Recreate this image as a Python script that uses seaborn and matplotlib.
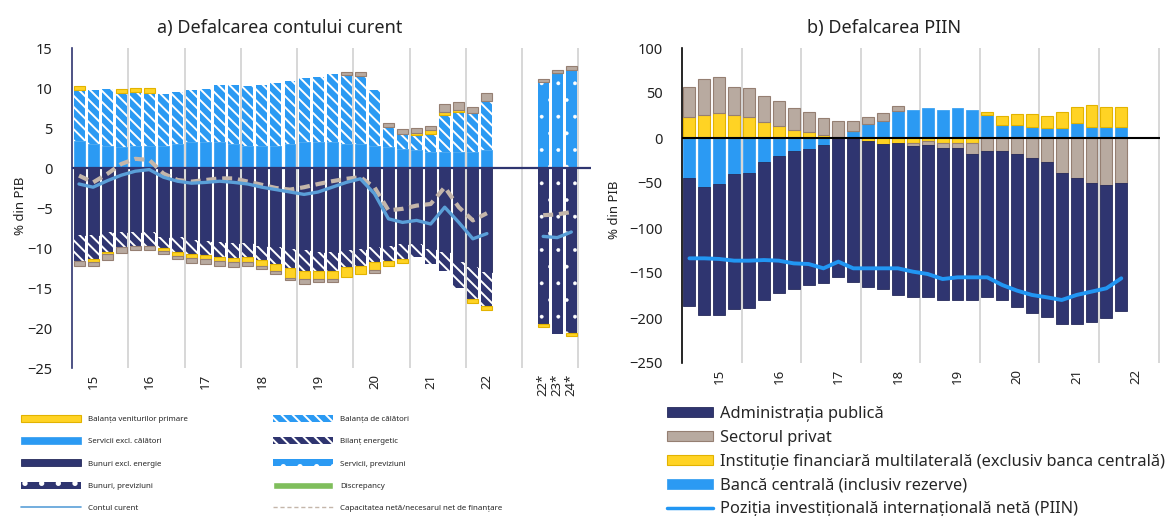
import matplotlib
matplotlib.use('Agg')
import numpy as np
import matplotlib.pyplot as plt
from matplotlib.patches import Patch
from matplotlib.lines import Line2D
import seaborn as sns

# ---- a) Defalcarea contului curent (% din PIB), 2015T1-2022T2 + previziuni
servicii = [3.4, 3.0, 2.8, 2.6, 2.8, 2.8, 2.8, 3.0, 3.2, 3.2, 3.2, 3.0, 2.8, 2.8, 2.8, 3.0,
            3.2, 3.2, 3.2, 3.0, 3.0, 2.8, 2.6, 2.4, 2.2, 2.0, 2.0, 2.0, 2.0, 2.2]
calatori = [6.4, 6.7, 7.1, 6.8, 6.7, 6.6, 6.5, 6.5, 6.5, 6.7, 7.2, 7.4, 7.4, 7.6, 7.8, 7.9,
            8.0, 8.2, 8.6, 8.6, 8.5, 7.0, 2.5, 1.9, 1.9, 2.3, 4.6, 5.0, 4.9, 6.2]
bunuri = [-8.4, -8.4, -8.0, -8.0, -8.0, -8.0, -8.65, -8.65, -9.0, -9.15, -9.3, -9.4, -9.4, -9.7, -9.9, -10.1,
          -10.3, -10.5, -10.5, -10.3, -10.1, -9.9, -9.7, -9.5, -9.5, -10.1, -10.5, -11.8, -12.4, -13.0]
energie = [-3.2, -3.0, -2.5, -1.9, -1.7, -1.7, -1.4, -1.8, -1.7, -1.7, -1.8, -1.8, -1.7, -1.8, -2.1, -2.4,
           -2.6, -2.4, -2.4, -2.1, -2.1, -1.9, -1.9, -1.9, -1.6, -1.9, -2.4, -3.2, -4.0, -4.3]
venituri_primare = [0.4, -0.3, -0.2, 0.45, 0.5, 0.65, -0.3, -0.5, -0.5, -0.55, -0.5, -0.6, -0.6, -0.7, -0.9, -1.2,
                    -0.95, -0.95, -0.95, -1.2, -1.1, -0.9, -0.65, -0.45, 0.25, 0.4, 0.45, 0.3, -0.45, -0.4]
alte = [-0.65, -0.55, -0.85, -0.75, -0.5, -0.5, -0.4, -0.45, -0.65, -0.65, -0.65, -0.6, -0.5, -0.4, -0.4, -0.35,
        -0.65, -0.45, -0.45, 0.4, 0.5, -0.45, 0.5, 0.6, 0.6, 0.5, 0.9, 0.9, 0.75, 0.95]
contul_curent = [-2.0, -2.4, -1.6, -0.9, -0.4, -0.2, -1.15, -1.65, -1.9, -1.8, -1.65, -1.8, -2.0, -2.4, -2.7, -3.0,
                 -3.3, -3.0, -2.4, -1.8, -1.35, -3.2, -6.35, -6.8, -6.55, -7.0, -4.9, -6.8, -8.85, -8.2]
capacitatea = [-0.95, -1.8, -0.75, 0.5, 1.15, 1.0, -0.7, -1.5, -1.7, -1.5, -1.3, -1.3, -1.7, -2.1, -2.5, -2.7,
               -2.4, -2.0, -1.65, -1.35, -1.15, -2.4, -5.3, -5.1, -4.7, -4.5, -2.4, -4.9, -6.55, -5.65]
# previziuni 2022*, 2023*, 2024*
servicii_prev = [10.7, 11.85, 12.3]
bunuri_prev = [-19.5, -20.7, -20.6]
venituri_prev = [-0.35, 0.0, -0.4]
alte_prev = [0.4, 0.45, 0.4]
contul_curent_prev = [-8.55, -8.7, -8.0]
capacitatea_prev = [-5.9, -5.8, -5.5]
labels_a = ['15', '16', '17', '18', '19', '20', '21', '22', '22*', '23*', '24*']

# ---- b) Defalcarea PIIN (% din PIB), 2015T1-2022T2
banca_centrala = [-44.8, -54.8, -51.1, -40.4, -38.5, -26.3, -20.0, -14.1, -12.2, -7.8, 0.0, 7.8, 15.2, 19.3, 30.0,
                  31.1, 33.0, 31.1, 33.0, 31.1, 25.6, 14.4, 14.4, 12.6, 10.7, 10.7, 17.0, 12.6, 12.6, 12.6]
ifm = [23.0, 25.6, 27.4, 25.6, 23.0, 17.4, 13.3, 8.9, 7.0, 3.3, 0.7, 0.0, -3.0, -7.0, -5.2,
       -5.9, -3.0, -5.9, -5.9, -5.9, 3.7, 10.0, 12.3, 14.1, 13.7, 18.6, 17.8, 24.1, 22.2, 22.2]
sector_privat = [34.0, 39.6, 40.0, 31.4, 32.2, 29.3, 27.8, 24.1, 22.3, 19.3, 18.6, 11.5, 7.8, 8.1, 5.6,
                 -3.1, -4.8, -5.6, -5.6, -11.9, -14.1, -14.1, -17.8, -21.9, -26.3, -38.5, -44.1, -50.4, -52.2, -50.4]
administratia = [-141.9, -141.9, -145.6, -150.0, -150.0, -153.7, -151.9, -154.0, -151.5, -153.7, -154.1, -159.6,
                 -162.9, -161.1, -169.2, -167.3, -168.5, -168.5, -168.5, -162.2, -162.2, -165.9, -170.3, -172.2,
                 -172.2, -168.2, -162.6, -154.4, -148.2, -141.5]
piin = [-133.7, -133.7, -134.4, -136.3, -136.3, -135.6, -136.3, -139.3, -140.0, -144.8, -137.4, -144.8, -144.8,
        -144.8, -144.8, -148.5, -151.1, -156.7, -154.8, -154.8, -154.8, -163.3, -169.6, -174.4, -177.0, -180.0,
        -174.4, -170.7, -167.0, -155.9]
labels_b = ['15', '16', '17', '18', '19', '20', '21', '22']

NAVY = '#2F3570'
BLUE = '#2B9AF3'
YELLOW = '#FFD324'
GREY = '#B8AAA0'
CA_BLUE = '#5A9FD8'
DASH = '#C4B6AA'
GREEN = '#7FBE5C'
TXT = '#222222'

sns.set_theme(style='white')
plt.rcParams['font.family'] = ['Noto Sans', 'DejaVu Sans']
plt.rcParams['hatch.linewidth'] = 1.4

fig = plt.figure(figsize=(11.76, 5.16), dpi=100)
W, H = 1176, 516
ax1 = fig.add_axes([72 / W, 1 - 368 / H, (591 - 72) / W, (368 - 48) / H])
ax2 = fig.add_axes([682 / W, 1 - 363 / H, (1160 - 682) / W, (363 - 48) / H])

STRIPES = '\\\\\\'


def thin_dots(artists):
    for a in artists:
        if hasattr(a, 'set_hatch_linewidth'):
            a.set_hatch_linewidth(0.3)


def stack(ax, x, series, width):
    pos = np.zeros(len(x))
    neg = np.zeros(len(x))
    for vals, style in series:
        v = np.asarray(vals, dtype=float)
        bottom = np.where(v >= 0, pos, neg)
        bars = ax.bar(x, v, bottom=bottom, width=width, zorder=2, **style)
        if style.get('hatch') == '.':
            thin_dots(bars)
        pos = np.where(v >= 0, pos + v, pos)
        neg = np.where(v < 0, neg + v, neg)


s_blue = dict(facecolor=BLUE, edgecolor='#3EA3F2', linewidth=0.6)
s_blue_h = dict(facecolor=BLUE, edgecolor='white', linewidth=0, hatch=STRIPES)
s_blue_d = dict(facecolor=BLUE, edgecolor='white', linewidth=0, hatch='.')
s_navy = dict(facecolor=NAVY, edgecolor='#262B5C', linewidth=0.6)
s_navy_h = dict(facecolor=NAVY, edgecolor='white', linewidth=0, hatch=STRIPES)
s_navy_d = dict(facecolor=NAVY, edgecolor='white', linewidth=0, hatch='.')
s_yellow = dict(facecolor=YELLOW, edgecolor='#E2B300', linewidth=0.8)
s_grey = dict(facecolor=GREY, edgecolor='#957F72', linewidth=0.8)

# ---------- panel a
n = len(servicii)
x_hist = np.arange(n)
x_prev = np.arange(33, 36)
stack(ax1, x_hist, [(servicii, s_blue), (bunuri, s_navy), (calatori, s_blue_h), (energie, s_navy_h),
                    (venituri_primare, s_yellow), (alte, s_grey)], 0.78)
stack(ax1, x_prev, [(servicii_prev, s_blue_d), (bunuri_prev, s_navy_d),
                    (venituri_prev, s_yellow), (alte_prev, s_grey)], 0.78)
ax1.axhline(0, color=NAVY, lw=1.6, zorder=3)
dash = (0, (2.4, 1.4))
sns.lineplot(x=x_hist, y=capacitatea, ax=ax1, color=DASH, lw=3, linestyle=dash, zorder=4)
sns.lineplot(x=x_hist, y=contul_curent, ax=ax1, color=CA_BLUE, lw=2.4, zorder=5)
sns.lineplot(x=x_prev, y=capacitatea_prev, ax=ax1, color=DASH, lw=3, linestyle=dash, zorder=4)
sns.lineplot(x=x_prev, y=contul_curent_prev, ax=ax1, color=CA_BLUE, lw=2.4, zorder=5)
for b in np.arange(3.5, 36, 4):
    ax1.axvline(b, color='#D4D4D4', lw=1.3, zorder=1)
ax1.set_xlim(-0.5, 36.4)
ax1.set_ylim(-25, 15)
ax1.set_yticks(np.arange(-25, 16, 5))
ax1.set_xticks([1, 5, 9, 13, 17, 21, 25, 29, 33, 34, 35])
ax1.set_xticklabels(labels_a, rotation=90, va='top')

# ---------- panel b
stack(ax2, x_hist, [(banca_centrala, s_blue), (ifm, s_yellow), (sector_privat, s_grey),
                    (administratia, s_navy)], 0.8)
ax2.axhline(0, color='black', lw=1.5, zorder=3)
sns.lineplot(x=x_hist, y=piin, ax=ax2, color='#2196F3', lw=2.8, zorder=5)
for b in np.arange(3.5, 32, 4):
    ax2.axvline(b, color='#D4D4D4', lw=1.3, zorder=1)
ax2.set_xlim(-0.5, 31.6)
ax2.set_ylim(-250, 100)
ax2.set_yticks(np.arange(-250, 101, 50))
ax2.set_xticks([2, 6, 10, 14, 18, 22, 26, 30])
ax2.set_xticklabels(labels_b, rotation=90, va='top')

for ax, spc in ((ax1, NAVY), (ax2, 'black')):
    for s in ('top', 'right', 'bottom'):
        ax.spines[s].set_visible(False)
    ax.spines['left'].set_color(spc)
    ax.spines['left'].set_linewidth(1.2)
    ax.tick_params(axis='y', length=0, labelsize=10.5, colors=TXT, pad=14)
    ax.tick_params(axis='x', length=0, labelsize=9.5, colors=TXT, pad=4)
    ax.set_xlabel('')
    ax.set_ylabel('')
    ax.grid(False)

fig.text(280 / W, 1 - 28 / H, 'a) Defalcarea contului curent', ha='center', va='center', fontsize=13, color=TXT)
fig.text(884 / W, 1 - 28 / H, 'b) Defalcarea PIIN', ha='center', va='center', fontsize=13, color=TXT)
fig.text(20 / W, 1 - 206 / H, '% din PIB', rotation=90, ha='center', va='center', fontsize=9.5, color=TXT)
fig.text(615 / W, 1 - 210 / H, '% din PIB', rotation=90, ha='center', va='center', fontsize=9.5, color=TXT)

# ---------- legends
h1 = [Patch(**s_yellow), Patch(**s_blue), Patch(**s_navy), Patch(**s_navy_d),
      Line2D([], [], color=CA_BLUE, lw=1.2)]
l1 = ['Balanța veniturilor primare', 'Servicii excl. călători', 'Bunuri excl. energie',
      'Bunuri, previziuni', 'Contul curent']
h2 = [Patch(**s_blue_h), Patch(**s_navy_h), Patch(**s_blue_d), Patch(facecolor=GREEN),
      Line2D([], [], color=DASH, lw=1.0, linestyle=(0, (3, 2)))]
l2 = ['Balanța de călători', 'Bilanț energetic', 'Servicii, previziuni', 'Discrepancy',
      'Capacitatea netă/necesarul net de finanțare']
thin_dots([h1[3], h2[2]])
small = dict(loc='upper left', frameon=False, fontsize=5.7, handlelength=7.6, handleheight=1.0,
             handletextpad=0.9, labelspacing=1.76, borderpad=0, borderaxespad=0)
fig.legend(h1, l1, bbox_to_anchor=(21 / W, 1 - 415 / H), **small)
fig.legend(h2, l2, bbox_to_anchor=(273 / W, 1 - 415 / H), **small)

h3 = [Patch(**s_navy), Patch(**s_grey), Patch(**s_yellow), Patch(**s_blue),
      Line2D([], [], color='#2196F3', lw=2.5)]
l3 = ['Administrația publică', 'Sectorul privat',
      'Instituție financiară multilaterală (exclusiv banca centrală)',
      'Bancă centrală (inclusiv rezerve)', 'Poziția investițională internațională netă (PIIN)']
fig.legend(h3, l3, loc='upper left', bbox_to_anchor=(667 / W, 1 - 406 / H), frameon=False, fontsize=11.8,
           handlelength=2.8, handleheight=0.61, handletextpad=0.43, labelspacing=0.48,
           borderpad=0, borderaxespad=0)

fig.savefig('out.png', dpi=100)
